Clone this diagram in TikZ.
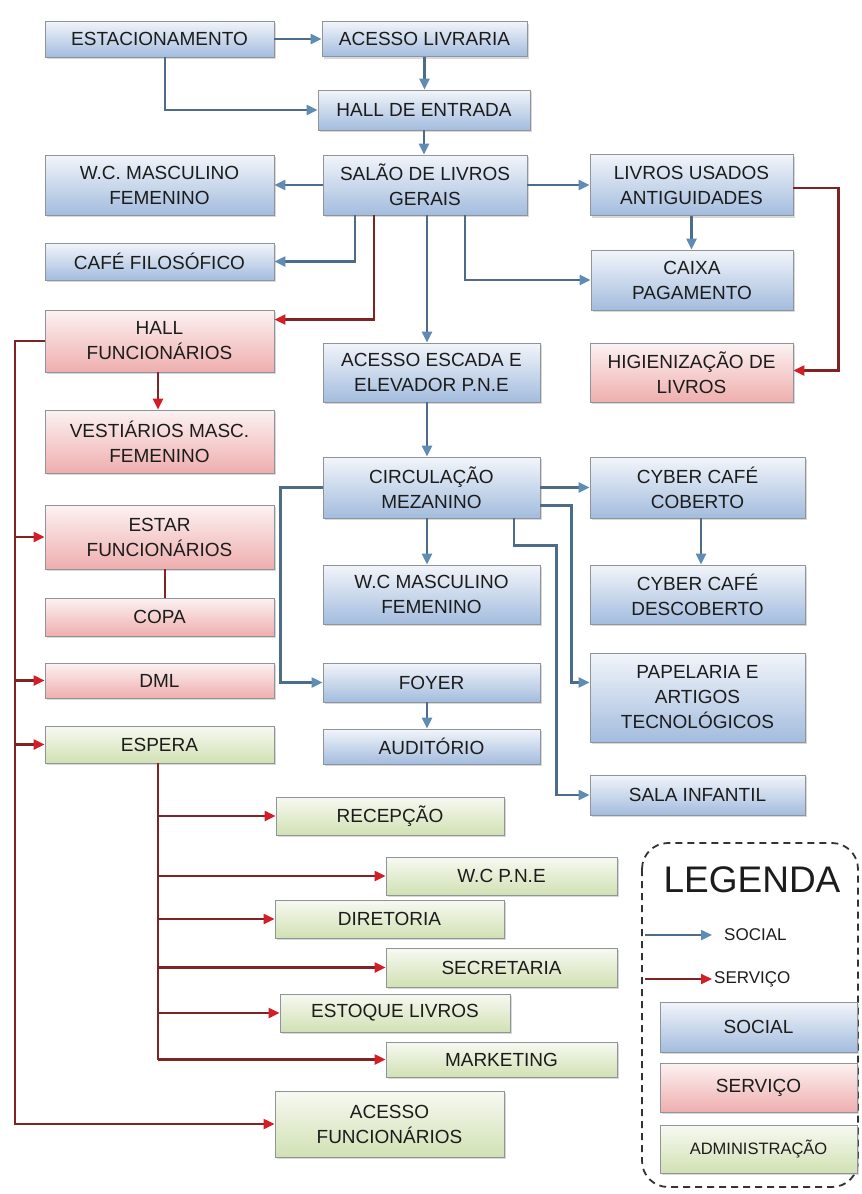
\documentclass[tikz,border=0pt]{standalone}
\usepackage{fontspec}
\setmainfont{Liberation Sans}
\usetikzlibrary{arrows.meta,shadows,calc}
\definecolor{socTop}{HTML}{F2F5FA}
\definecolor{socBot}{HTML}{A3BCDE}
\definecolor{serTop}{HTML}{FCF2F2}
\definecolor{serBot}{HTML}{EFAEAE}
\definecolor{admTop}{HTML}{F7F9F2}
\definecolor{admBot}{HTML}{D1E1B3}
\definecolor{boxborder}{HTML}{8E949A}
\definecolor{textc}{HTML}{1C1C1C}
\definecolor{socline}{HTML}{4C6C8A}
\definecolor{sochead}{HTML}{5E8CB4}
\definecolor{serline}{HTML}{7E2424}
\definecolor{serhead}{HTML}{D41E26}
\definecolor{legline}{HTML}{333333}
\tikzset{
  box/.style={draw=boxborder, line width=0.9pt, align=center, inner sep=2pt,
    font=\fontsize{19}{25}\selectfont, text=textc,
    drop shadow={shadow xshift=2pt, shadow yshift=-2pt, opacity=0.3}},
  soc/.style={box, top color=socTop, bottom color=socBot},
  ser/.style={box, top color=serTop, bottom color=serBot},
  adm/.style={box, top color=admTop, bottom color=admBot},
  sarrow/.style={draw=socline, line width=2.3pt, -{Triangle[length=11pt,width=10pt,color=sochead]}},
  rarrow/.style={draw=serline, line width=2.3pt, -{Triangle[length=11pt,width=10pt,color=serhead]}},
  rline/.style={draw=serline, line width=2.3pt},
}
\newcommand{\bx}[7]{\node[#1, minimum width=#5pt, minimum height=#6pt] (#2) at (#3,#4) {#7};}
\begin{document}
\begin{tikzpicture}[x=1pt,y=-1pt]
\useasboundingbox (0,0) rectangle (862,1194);
\fill[white] (0,0) rectangle (862,1194);
% boxes
\bx{soc}{est}{159.5}{39}{229}{36}{ESTACIONAMENTO}
\bx{soc}{acl}{424.5}{39}{205}{35}{ACESSO LIVRARIA}
\bx{soc}{hall}{424}{110}{212}{40}{HALL DE ENTRADA}
\bx{soc}{wca}{159.5}{185}{229}{60}{W.C. MASCULINO\\FEMENINO}
\bx{soc}{salao}{425}{185}{204}{60}{SALÃO DE LIVROS\\GERAIS}
\bx{soc}{usados}{691.5}{185}{203}{61}{LIVROS USADOS\\ANTIGUIDADES}
\bx{soc}{cafe}{159.5}{261.5}{229}{37}{CAFÉ FILOSÓFICO}
\bx{soc}{caixa}{692}{280}{202}{60}{CAIXA\\PAGAMENTO}
\bx{ser}{hallf}{159.5}{341}{229}{62}{HALL\\FUNCIONÁRIOS}
\bx{soc}{escada}{431.5}{372.5}{217}{59}{ACESSO ESCADA E\\ELEVADOR P.N.E}
\bx{ser}{higien}{691.5}{372.5}{203}{59}{HIGIENIZAÇÃO DE\\LIVROS}
\bx{ser}{vest}{159.5}{441.5}{229}{63}{VESTIÁRIOS MASC.\\FEMENINO}
\bx{soc}{circ}{431.5}{487.5}{217}{61}{CIRCULAÇÃO\\MEZANINO}
\bx{soc}{cybera}{697.5}{487.5}{215}{61}{CYBER CAFÉ\\COBERTO}
\bx{ser}{estar}{159.5}{537}{229}{64}{ESTAR\\FUNCIONÁRIOS}
\bx{ser}{copa}{159.5}{617}{229}{38}{COPA}
\bx{soc}{wcb}{431.5}{594.5}{217}{59}{W.C MASCULINO\\FEMENINO}
\bx{soc}{cyberb}{697.5}{594.5}{215}{59}{CYBER CAFÉ\\DESCOBERTO}
\bx{ser}{dml}{159.5}{680.5}{229}{35}{DML}
\bx{soc}{foyer}{431.5}{682.5}{217}{39}{FOYER}
\bx{soc}{papel}{697.5}{697.5}{215}{89}{PAPELARIA E\\ARTIGOS\\TECNOLÓGICOS}
\bx{adm}{espera}{159.5}{744.5}{229}{37}{ESPERA}
\bx{soc}{audit}{431.5}{746.5}{217}{35}{AUDITÓRIO}
\bx{soc}{sala}{697.5}{795}{215}{40}{SALA INFANTIL}
\bx{adm}{recep}{390}{816}{228}{38}{RECEPÇÃO}
\bx{adm}{wcpne}{501.5}{876}{231}{38}{W.C P.N.E}
\bx{adm}{diret}{389.5}{919}{229}{38}{DIRETORIA}
\bx{adm}{secret}{501.5}{967.5}{231}{39}{SECRETARIA}
\bx{adm}{estoque}{395}{1013}{230}{38}{ESTOQUE LIVROS}
\bx{adm}{market}{501.5}{1059.5}{231}{35}{MARKETING}
\bx{adm}{acessof}{389.5}{1124}{229}{66}{ACESSO\\FUNCIONÁRIOS}
% trunk coordinates
\coordinate (trunk) at (15,0);
\coordinate (etrunk) at (158,0);
% social connectors
\draw[sarrow] (est.east) -- (est.east -| acl.west);
\draw[sarrow] (est.south -| 165,0) |- (hall.west);
\draw[sarrow] (acl.south) -- (hall.north -| acl.south);
\draw[sarrow] (hall.south) -- (salao.north -| hall.south);
\draw[sarrow] (salao.west) -- (wca.east);
\draw[sarrow] (salao.south -| 355,0) |- (cafe.east);
\draw[sarrow] (salao.south -| 427,0) -- (escada.north -| 427,0);
\draw[sarrow] (salao.south -| 465,0) |- (caixa.west);
\draw[sarrow] (salao.east) -- (salao.east -| usados.west);
\draw[sarrow] (usados.south) -- (caixa.north -| usados.south);
\draw[sarrow] (escada.south -| 427,0) -- (circ.north -| 427,0);
\draw[sarrow] (circ.south -| 427,0) -- (wcb.north -| 427,0);
\draw[sarrow] (circ.west) -- ++(-42,0) |- (foyer.west);
\draw[sarrow] (foyer.south -| 427,0) -- (audit.north -| 427,0);
\draw[sarrow] (circ.east) -- (cybera.west);
\draw[sarrow] ([yshift=-18pt]circ.east) -| ([xshift=-18pt,yshift=15pt]papel.west) -- ([yshift=15pt]papel.west);
\draw[sarrow] (circ.south -| 514,0) -- ++(0,27) -| ([xshift=-33pt]sala.west) -- (sala.west);
\draw[sarrow] (cybera.south -| 701,0) -- (cyberb.north -| 701,0);
% service connectors
\draw[rarrow] (salao.south -| 374,0) |- ([yshift=-10pt]hallf.north east);
\draw[rarrow] ([yshift=-3pt]usados.east) -- ++(45,0) |- ([yshift=2pt]higien.east);
\draw[rarrow] (hallf.south -| 158,0) -- (vest.north -| 158,0);
\draw[rarrow] (hallf.west) -- (trunk |- hallf.west) |- (acessof.west);
\draw[rarrow] (trunk |- estar.west) -- (estar.west);
\draw[rarrow] (trunk |- dml.west) -- (dml.west);
\draw[rarrow] (trunk |- espera.west) -- (espera.west);
\draw[rline] (estar.south -| 165,0) -- (copa.north -| 165,0);
\draw[rline] (espera.south -| etrunk) -- (etrunk |- market.west);
\draw[rarrow] (etrunk |- recep.west) -- (recep.west);
\draw[rarrow] (etrunk |- wcpne.west) -- (wcpne.west);
\draw[rarrow] (etrunk |- diret.west) -- (diret.west);
\draw[rarrow] (etrunk |- secret.west) -- (secret.west);
\draw[rarrow] (etrunk |- estoque.west) -- (estoque.west);
\draw[rarrow] (etrunk |- market.west) -- (market.west);
% legend
\draw[draw=legline, line width=1.8pt, dash pattern=on 7pt off 5pt, rounded corners=26pt] (642,843) rectangle (858,1187);
\node[font=\fontsize{37}{40}\selectfont, text=textc] (legtitle) at (752,880) {LEGENDA};
\coordinate (lsa) at (645,935);
\coordinate (lsb) at (645,979);
\node[anchor=west, font=\fontsize{17}{20}\selectfont, text=textc, inner sep=0pt] (lsoc) at (724,935) {SOCIAL};
\node[anchor=west, font=\fontsize{17}{20}\selectfont, text=textc, inner sep=0pt] (lser) at (714,979) {SERVIÇO};
\draw[sarrow] (lsa) -- ([xshift=-12pt]lsoc.west);
\draw[rarrow] (lsb) -- ([xshift=-2pt]lser.west);
\bx{soc}{lgsoc}{758.5}{1027}{197}{50}{SOCIAL}
\bx{ser}{lgser}{758.5}{1087.5}{197}{49}{SERVIÇO}
\node[adm, minimum width=197pt, minimum height=48pt, font=\fontsize{16.5}{18}\selectfont] (lgadm) at (758.5,1149) {ADMINISTRAÇÃO};
\end{tikzpicture}
\end{document}
